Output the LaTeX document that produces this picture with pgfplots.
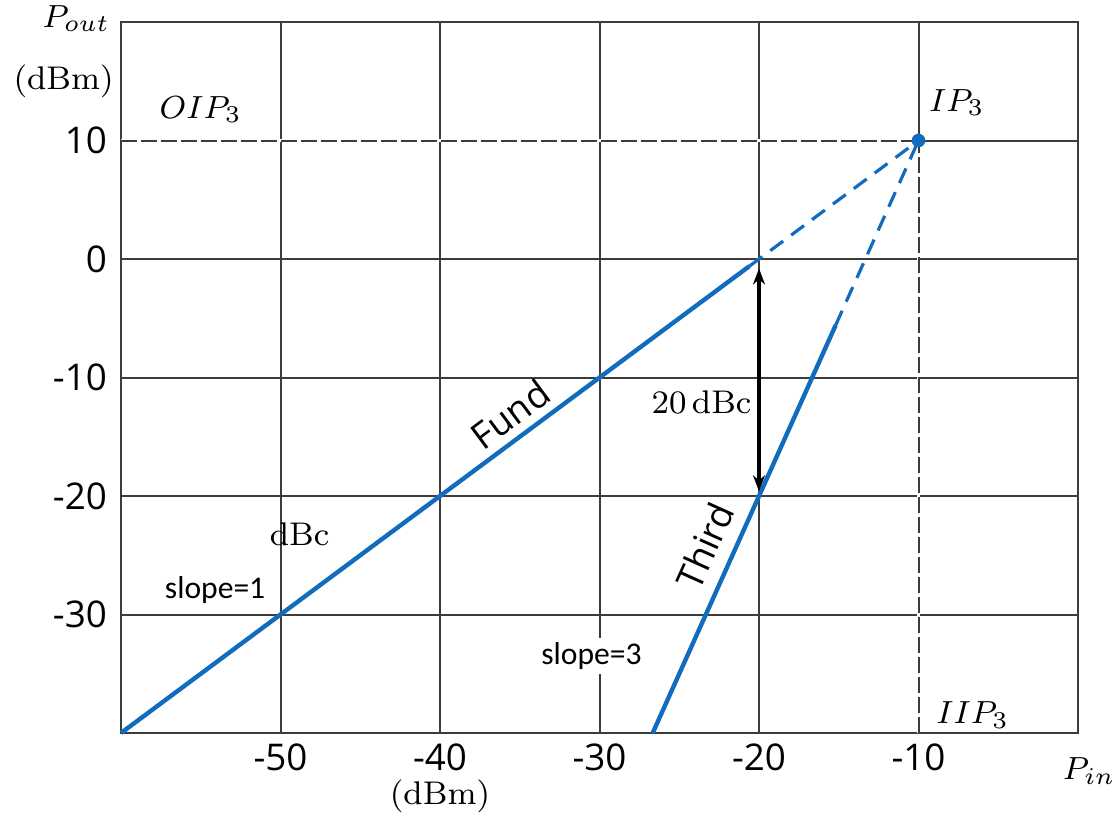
\documentclass[border=0pt]{standalone}
\usepackage{fontspec}
\setsansfont{Open Sans}
\newfontfamily\carlito{Carlito}
\usepackage{pgfplots}
\pgfplotsset{compat=1.18}
\usetikzlibrary{arrows.meta}
\definecolor{lineblue}{RGB}{18,108,190}
\definecolor{gridgray}{RGB}{60,60,60}
\begin{document}
\begin{tikzpicture}
\begin{axis}[
  scale only axis,
  width=239.25pt, height=177.75pt,
  xmin=-60, xmax=0, ymin=-40, ymax=20,
  xtick={-50,-40,-30,-20,-10},
  ytick={-30,-20,-10,0,10},
  grid=major,
  grid style={gridgray, line width=0.5pt},
  axis line style={gridgray, line width=0.5pt},
  major tick length=0pt,
  ticklabel style={font=\sffamily\fontsize{9.2}{10}\selectfont},
  xticklabel style={yshift=0.8pt},
  /pgf/number format/assume math mode=true,
  clip=false,
  axis on top=false,
]
% dashed IP3 guides over grid
\draw[white, line width=0.8pt] (axis cs:-60,10) -- (axis cs:-10,10);
\draw[white, line width=0.8pt] (axis cs:-10,-40) -- (axis cs:-10,10);
\draw[gridgray, line width=0.5pt, dash pattern=on 4pt off 1pt] (axis cs:-60,10) -- (axis cs:-10,10);
\draw[gridgray, line width=0.5pt, dash pattern=on 4pt off 1pt] (axis cs:-10,-40) -- (axis cs:-10,10);

% Fundamental
\addplot[lineblue, line width=1.1pt] coordinates {(-60,-40) (-20.6,-0.6)};
\addplot[lineblue, line width=0.8pt, dash pattern=on 4pt off 2.5pt] coordinates {(-20.6,-0.6) (-10,10)};
% Third order
\addplot[lineblue, line width=1.1pt] coordinates {(-26.667,-40) (-15.2,-5.6)};
\addplot[lineblue, line width=0.8pt, dash pattern=on 4pt off 2.5pt] coordinates {(-15.2,-5.6) (-10,10)};
% IP3 point
\addplot[only marks, mark=*, mark size=1.5pt, lineblue] coordinates {(-10,10)};

% 20 dBc arrow
\draw[black, line width=0.8pt, {Stealth[length=4pt]}-{Stealth[length=4pt]}] (axis cs:-20,-0.8) -- (axis cs:-20,-19.6);

\node[font=\fontsize{8.2}{9}\selectfont] at (axis cs:-23.6,-12.1) {20\,dBc};
\node[font=\fontsize{8.2}{9}\selectfont] at (axis cs:-48.8,-23.2) {dBc};
\node[font=\carlito\fontsize{7.9}{9}\selectfont, inner sep=1pt] at (axis cs:-54.1,-27.9) {slope=1};
\node[font=\carlito\fontsize{7.9}{9}\selectfont, fill=white, inner sep=1pt] at (axis cs:-30.5,-33.5) {slope=3};
\node[font=\sffamily\fontsize{9.2}{10}\selectfont, rotate=36.6] at (axis cs:-35.6,-13.1) {Fund};
\node[font=\sffamily\fontsize{9.2}{10}\selectfont, rotate=65.8, inner sep=0pt] at (axis cs:-23.4,-24.2) {Third};

\node[font=\fontsize{8.2}{9}\selectfont] at (axis cs:-55,12.6) {$OIP_3$};
\node[font=\fontsize{8.2}{9}\selectfont] at (axis cs:-7.6,13.2) {$IP_3$};
\node[font=\fontsize{8.2}{9}\selectfont] at (axis cs:-6.6,-38.5) {$IIP_3$};
\node[font=\fontsize{8.2}{9}\selectfont] at (axis cs:-62.8,20.3) {$P_{out}$};
\node[font=\fontsize{8.2}{9}\selectfont] at (axis cs:-63.6,15) {(dBm)};
\node[font=\fontsize{8.2}{9}\selectfont] at (axis cs:0.7,-43.2) {$P_{in}$};
\node[font=\fontsize{8.2}{9}\selectfont] at (axis cs:-40,-45.3) {(dBm)};
\end{axis}
\pgfresetboundingbox
\path[use as bounding box] ([shift={(-30.25pt,-23.75pt)}]current axis.south west) rectangle ([shift={(9.5pt,5.5pt)}]current axis.north east);
\end{tikzpicture}
\end{document}
